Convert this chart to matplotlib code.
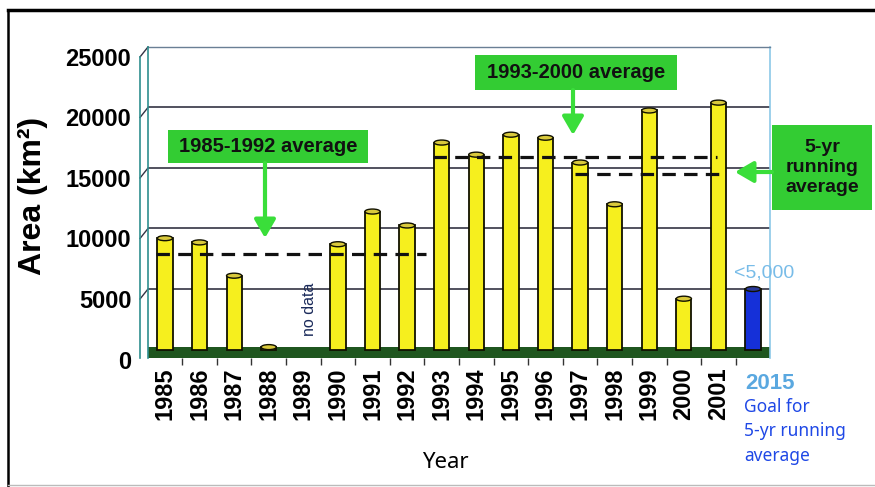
import matplotlib
matplotlib.use("Agg")
import matplotlib.pyplot as plt
import numpy as np
from matplotlib.patches import Ellipse, Rectangle, FancyArrowPatch
from matplotlib.lines import Line2D
from matplotlib.transforms import ScaledTranslation

plt.rcParams['font.family'] = ['Liberation Sans', 'DejaVu Sans']

# Sea-ice area per year (km^2); 1989 has no data, 2015 is the goal
years = ["1985", "1986", "1987", "1988", "1989", "1990", "1991", "1992",
         "1993", "1994", "1995", "1996", "1997", "1998", "1999", "2000",
         "2001", "2015"]
area = [9200, 8850, 6100, 200, np.nan, 8700, 11400, 10250,
        17100, 16100, 17750, 17500, 15450, 12000, 19750, 4200,
        20400, 5000]
goal_label = "<5,000"

# Reference averages
avg_1985_1992 = 7900
avg_1993_2000 = 15900
running_5yr = 14500

y_ticks = [0, 5000, 10000, 15000, 20000, 25000]

W, H = 875, 487
fig = plt.figure(figsize=(W / 100, H / 100), dpi=100)
fig.patch.set_facecolor('white')


def fx(x):
    return x / W


def fy(y):
    return 1 - y / H


ax = fig.add_axes([fx(148), fy(358), 622 / W, 311.06 / H])
ax.set_xlim(-0.49, 17.49)
ax.set_ylim(-700, 25000)
ax.set_facecolor('white')
for s in ['left', 'bottom']:
    ax.spines[s].set_visible(False)
ax.spines['top'].set_color('#6a7f95')
ax.spines['top'].set_linewidth(1.0)
ax.spines['right'].set_color('#8cc8e8')
ax.spines['right'].set_linewidth(1.2)

# back-wall gridlines
for v in y_ticks[1:-1]:
    ax.axhline(v, color='#222233', lw=1.1, zorder=1)

# floor
x0, x1 = ax.get_xlim()
ax.add_patch(Rectangle((x0, -700), x1 - x0, 950, facecolor='#1f561f',
                       edgecolor='none', zorder=2))

# bars drawn as simple cylinders
xs = np.arange(len(years))
bar_w = 0.44
cap_h = 5 * 25700 / 311.06
colors = ['#f6ef1e'] * (len(years) - 1) + ['#1530d8']
cap_colors = ['#d9c93c'] * (len(years) - 1) + ['#2a3a9a']
for xi, v, c, cc in zip(xs, area, colors, cap_colors):
    if np.isnan(v):
        continue
    ax.bar(xi, v, width=bar_w, color=c, edgecolor='#111100', lw=1.3, zorder=3)
    ax.add_patch(Ellipse((xi, v), bar_w, cap_h, facecolor=cc,
                         edgecolor='#111100', lw=1.0, zorder=4))

# dashed average lines
dash = dict(color='#111111', lw=2.3, dashes=(4.2, 2.6), zorder=6)
ax.plot([-0.25, 7.55], [avg_1985_1992] * 2, **dash)
ax.plot([7.75, 15.95], [avg_1993_2000] * 2, **dash)
ax.plot([11.85, 16.25], [running_5yr] * 2, **dash)

# ticks
ax.set_yticks(y_ticks)
ax.set_yticklabels([str(t) for t in y_ticks], fontsize=17, fontweight='bold')
ax.tick_params(axis='y', length=0, pad=12)
for lab in ax.get_yticklabels():
    lab.set_transform(lab.get_transform() +
                      ScaledTranslation(0, -10 / 100, fig.dpi_scale_trans))

ax.set_xticks(xs)
ax.set_xticklabels(years, rotation=90, fontsize=17, fontweight='bold')
ax.set_xticks(xs[:-1] + 0.5, minor=True)
ax.tick_params(axis='x', which='major', length=0, pad=7)
ax.tick_params(axis='x', which='minor', length=5, width=1, color='#333333')
last = ax.get_xticklabels()[-1]
last.set_rotation(0)
last.set_color('#5aa8e0')
last.set_fontsize(16)
last.set_transform(last.get_transform() +
                   ScaledTranslation(17 / 100, -5 / 100, fig.dpi_scale_trans))

# left wall strip
fig.canvas.draw()
to_fig = fig.transFigure.inverted()
wall_pts_back = [ax.transData.transform((x0, v)) for v in [-700] + y_ticks[1:]]
wall_col = '#2f8f8f'
for (bx, by) in wall_pts_back[1:]:
    p0 = to_fig.transform((bx, by))
    p1 = to_fig.transform((bx - 8, by - 10))
    fig.add_artist(Line2D([p0[0], p1[0]], [p0[1], p1[1]], color='#333344', lw=1.0))
top_b = wall_pts_back[-1]
bot_b = wall_pts_back[0]
for dx, dy in [(0, 0), (-8, -10)]:
    a = to_fig.transform((top_b[0] + dx, top_b[1] + dy))
    b = to_fig.transform((bot_b[0] + dx, bot_b[1] + (dy if dx == 0 else 0)))
    fig.add_artist(Line2D([a[0], b[0]], [a[1], b[1]], color=wall_col, lw=1.2))

# labels
fig.text(fx(33), fy(196), "Area (km²)", rotation=90, fontsize=23,
         fontweight='bold', ha='center', va='center')
fig.text(fx(445), fy(463), "Year", fontsize=16, ha='center', va='center',
         family=['Noto Sans', 'DejaVu Sans'])
ax.text(4.19, 3300, "no data", rotation=90, fontsize=11.5, color='#1a2a5a',
        ha='center', va='center', zorder=5)
fig.text(fx(764), fy(273), goal_label, fontsize=14, color='#78bce8',
         ha='center', va='center')
fig.text(fx(744), fy(398), "Goal for\n5-yr running\naverage", fontsize=12.5,
         color='#1f48e6', ha='left', va='top', linespacing=1.45,
         family=['Noto Sans', 'DejaVu Sans'])

# green callout boxes
green = '#33cc33'
arrow_green = '#3ade3a'


def box(xa, ya, xb, yb, text, fs):
    fig.add_artist(Rectangle((fx(xa), fy(yb)), (xb - xa) / W, (yb - ya) / H,
                             transform=fig.transFigure, facecolor=green,
                             edgecolor='none', zorder=7))
    fig.text(fx((xa + xb) / 2), fy((ya + yb) / 2), text, fontsize=fs,
             fontweight='bold', ha='center', va='center', color='#111111',
             zorder=8, linespacing=1.25)


def arrow(xa, ya, xb, yb):
    fig.add_artist(FancyArrowPatch((fx(xa), fy(ya)), (fx(xb), fy(yb)),
                                   transform=fig.transFigure,
                                   arrowstyle='-|>,head_length=0.55,head_width=0.32',
                                   mutation_scale=20, color=arrow_green, lw=3,
                                   shrinkA=0, shrinkB=0, zorder=7))


box(168, 130, 368, 163, "1985-1992 average", 14.5)
arrow(265, 163, 265, 238)
box(475, 55, 677, 90, "1993-2000 average", 14.5)
arrow(573, 90, 573, 135)
box(772, 125, 872, 210, "5-yr\nrunning\naverage", 14)
arrow(772, 172, 735, 172)

# page frame
fig.add_artist(Line2D([fx(8), 1], [fy(10), fy(10)], color='black', lw=2.5))
fig.add_artist(Line2D([fx(8), fx(8)], [fy(10), fy(486)], color='black', lw=1.8))
fig.add_artist(Line2D([fx(8), 1], [fy(485), fy(485)], color='#bbbbbb', lw=1.0))

fig.savefig("out.png", dpi=100)
